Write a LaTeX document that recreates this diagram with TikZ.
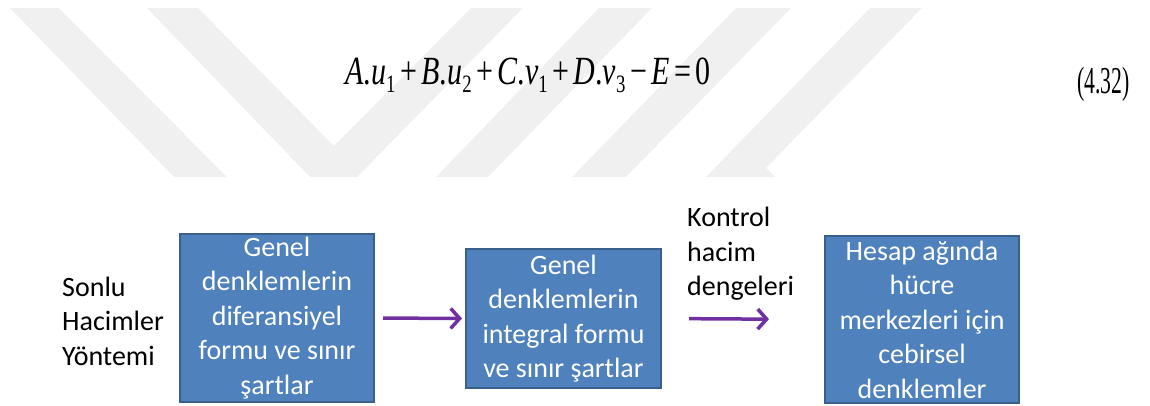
\documentclass[tikz,border=0pt]{standalone}
\usepackage{fontspec}
\setmainfont{Carlito}
\newfontfamily\eqfont{Liberation Serif}
\usetikzlibrary{arrows.meta,positioning}
\definecolor{kutu}{HTML}{4F81BD}
\definecolor{kenar}{HTML}{3A5F8B}
\definecolor{mor}{HTML}{7030A0}
\newcommand{\alt}[1]{\raisebox{-0.22em}{\fontsize{25}{25}\selectfont #1}}
\newcommand{\op}[1]{\hspace{6pt}#1\hspace{6pt}}

\begin{document}
\begin{tikzpicture}[x=1pt,y=-1pt,
  wmark/.style={fill=gray!12},
  denk/.style={inner sep=0pt,font=\eqfont\fontsize{40}{40}\selectfont},
  blok/.style={draw=kenar,fill=kutu,line width=2pt,text=white,align=flush center,
    inner sep=0pt,text width=190pt,font=\fontsize{28}{34.5}\selectfont},
  etiket/.style={inner sep=0pt,align=flush left,font=\fontsize{28}{34.5}\selectfont},
  akis/.style={draw=mor,line width=3.5pt,-{Straight Barb[length=9pt,width=20pt,line width=3.5pt]}}]
  \useasboundingbox (0,0) rectangle (1150,405);
  % filigran
  \fill[wmark] (10,8) -- (59,8) -- (227,177) -- (174,177) -- cycle;
  \fill[wmark] (147,8) -- (198,8) -- (334,146) -- (471,8) -- (523,8) -- (357,177) -- (310,177) -- cycle;
  \fill[wmark] (599,8) -- (652,8) -- (488,177) -- (436,177) -- cycle;
  \fill[wmark] (736,8) -- (791,8) -- (626,177) -- (572,177) -- cycle;
  \fill[wmark] (870,8) -- (922,8) -- (766,168) -- (775,177) -- (706,177) -- cycle;
  % denklem (4.32)
  \node[denk,anchor=base] (eq) at (528,84) {\scalebox{0.75}[1]{\textit{A}.\textit{u}\alt{1}\op{+}\textit{B}.\textit{u}\alt{2}\op{+}\textit{C}.\textit{v}\alt{1}\op{+}\textit{D}.\textit{v}\alt{3}\op{−}\textit{E}\op{=}0}};
  \node[denk,anchor=base east,font=\eqfont\fontsize{38}{38}\selectfont] (no) at (1130,93) {\scalebox{0.57}[1]{(4.32)}};
  % akis semasi
  \node[etiket,anchor=west] (shy) at (62,321) {Sonlu\\Hacimler\\Yöntemi};
  \node[blok,minimum width=194pt,minimum height=168pt] (b1) at (277,318) {Genel\\denklemlerin\\diferansiyel\\formu ve sınır\\şartlar};
  \node[blok,minimum width=195pt,minimum height=139pt] (b2) at (563.5,318.5) {Genel\\denklemlerin\\integral formu\\ve sınır şartlar};
  \node[blok,minimum width=194pt,minimum height=167pt] (b3) at (922,319.5) {Hesap ağında\\hücre\\merkezleri için\\cebirsel\\denklemler};
  \node[etiket,anchor=west] (khd) at (687,254) {Kontrol\\hacim\\dengeleri};
  \draw[akis,shorten <=8pt,shorten >=3pt] (b1.east) -- (b2.west);
  \draw[akis,shorten <=27pt,shorten >=55pt] (b2.east) -- (b3.west);
\end{tikzpicture}
\end{document}
